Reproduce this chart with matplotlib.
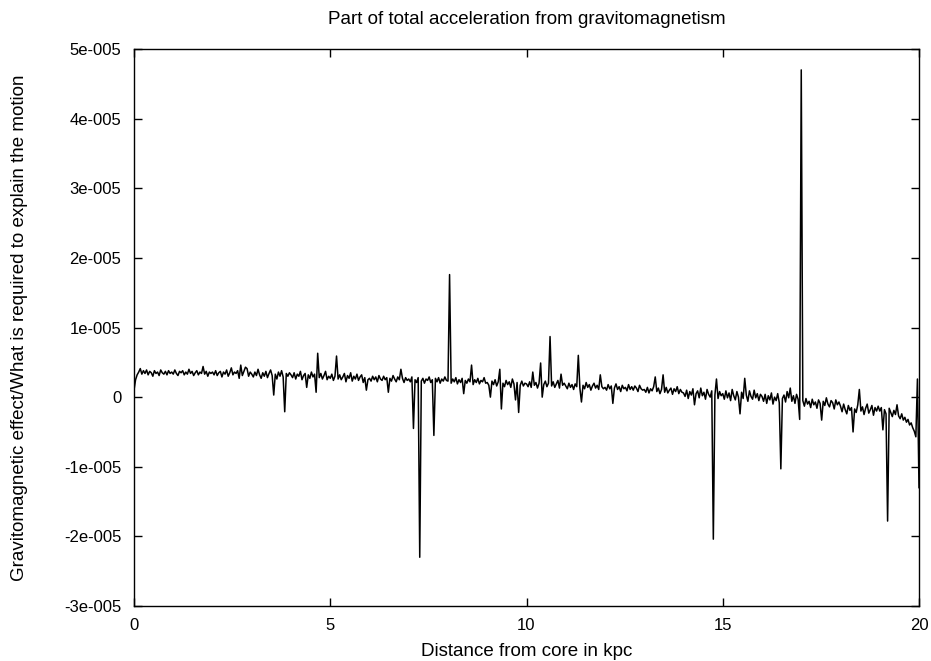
import numpy as np
import matplotlib
matplotlib.use("Agg")
import matplotlib.pyplot as plt

# valores, en unidades de 1e-6, paso de 0.04 kpc
step_kpc = 0.04
rows = [
    [1.0, 2.5, 3.2, 3.6, 4.1, 3.3, 3.8, 3.4, 3.9, 3.2, 3.7, 3.5, 3.0, 3.8, 3.4, 3.6, 3.1, 3.9, 3.5, 3.3, 3.7, 3.2, 3.8, 3.4, 3.6],
    [3.3, 3.9, 3.4, 3.1, 3.7, 3.5, 3.8, 3.2, 3.6, 3.3, 4.0, 3.4, 3.7, 3.1, 3.5, 3.8, 3.2, 3.6, 3.4, 4.4, 3.3, 3.7, 3.0, 3.6, 3.4],
    [3.6, 3.2, 3.8, 3.1, 3.5, 3.7, 2.9, 3.6, 3.3, 3.9, 3.0, 3.5, 4.2, 3.2, 3.6, 3.4, 3.8, 2.7, 4.6, 3.1, 3.7, 4.3, 4.1, 3.0, 3.6],
    [3.3, 2.9, 3.6, 3.1, 4.0, 3.2, 2.7, 3.5, 3.0, 3.7, 2.8, 3.4, 3.9, 3.1, 0.3, 3.3, 2.6, 3.6, 3.0, 3.8, 2.9, -2.1, 3.4, 3.0, 3.5],
    [3.2, 2.8, 3.5, 2.6, 3.3, 3.0, 3.7, 2.5, 3.1, 3.4, 1.4, 3.2, 2.7, 3.6, 2.9, 3.3, 0.7, 6.3, 2.8, 3.4, 2.6, 3.1, 3.7, 2.5, 3.0],
    [2.7, 3.3, 2.4, 3.0, 5.9, 2.6, 3.2, 2.5, 2.9, 3.4, 2.2, 3.1, 2.7, 3.5, 2.3, 3.0, 2.6, 3.3, 2.4, 2.9, 3.2, 2.1, 2.8, 1.0, 2.5],
    [2.7, 2.3, 3.0, 2.5, 2.9, 2.2, 3.1, 2.6, 2.4, 3.0, 2.5, 2.8, 0.7, 2.7, 2.3, 3.1, 2.6, 2.2, 2.9, 2.5, 4.0, 2.7, 2.1, 2.8, 2.4],
    [2.6, 2.2, 2.9, -4.5, 2.5, 2.1, 2.8, -23.0, 2.3, 2.7, 2.0, 2.6, 2.4, 2.9, 2.1, 2.5, -5.5, 2.7, 2.2, 2.8, 2.0, 2.6, 2.3, 2.9, 2.4],
    [2.3, 17.6, 2.0, 2.6, 2.2, 2.8, 1.9, 2.5, 2.1, 2.7, 0.5, 2.4, 2.0, 2.6, 2.2, 4.6, 1.8, 2.5, 2.1, 2.7, 1.9, 2.4, 2.2, 2.8, 2.0],
    [2.1, 1.7, 0.0, 2.3, 1.8, 2.5, 1.6, 2.2, 4.0, -1.7, 2.0, 1.5, 2.4, 1.8, 2.2, 1.4, 2.6, 1.9, -0.4, 2.1, -2.2, 1.7, 2.3, 1.6, 2.0],
    [1.9, 1.5, 2.2, 1.4, 3.6, 1.7, 2.1, 1.3, 2.0, 4.9, 0.0, 1.8, 2.3, 1.5, 2.0, 8.7, 1.6, 2.2, 1.4, 1.9, 2.4, 1.3, 3.3, 1.7, 2.0],
    [1.6, 1.2, 2.0, 1.4, 1.8, 1.1, 1.9, 1.5, 6.0, 1.3, -0.7, 1.7, 1.2, 2.1, 1.4, 1.8, 1.0, 1.6, 2.0, 1.3, 1.7, 1.1, 3.2, 1.5, 1.2],
    [1.4, 1.0, 1.8, 1.2, 1.6, -0.9, 1.3, 1.9, 1.1, 1.5, 0.8, 1.7, 1.2, 1.4, 0.9, 1.8, 1.1, 1.5, 1.0, 1.6, 1.3, 0.8, 1.7, 1.2, 1.0],
    [1.1, 0.7, 1.4, 0.6, 1.2, 0.9, 1.5, 2.9, 0.8, 1.3, 0.5, 1.1, 3.2, 0.7, 1.4, 0.6, 1.0, 1.3, 0.4, 1.2, 0.8, 1.5, 0.5, 1.1, 0.7],
    [0.6, 0.1, 1.0, -0.2, 0.8, 0.3, 1.2, -1.1, 0.5, 0.9, -0.1, 1.3, 0.2, 0.7, -0.3, 1.1, 0.4, 0.0, 0.9, -20.4, 0.3, 2.6, -0.2, 0.8, 0.2],
    [0.5, -0.3, 0.9, -0.1, 0.6, -0.5, 1.1, 0.2, -0.4, 0.8, 0.0, -2.4, 0.7, -0.2, 2.7, 0.3, -0.6, 0.9, 0.1, -0.3, 1.0, -0.1, 0.5, -0.5, 0.4],
    [0.1, -0.6, 0.4, -0.9, 0.2, -0.4, 0.6, -1.0, 0.0, -0.5, 0.5, -0.8, -10.3, -0.2, 0.3, -0.7, 0.8, -0.1, 1.3, -0.6, 0.2, -0.9, 0.4, -0.3, -3.2],
    [47.0, -0.5, -1.3, -0.2, -1.0, -0.6, -1.5, -0.3, -1.1, -0.7, -1.6, -0.4, -0.9, -3.3, -0.6, -1.2, -0.1, -1.0, -1.4, -0.5, -0.8, -1.7, -0.4, -1.1, -0.7],
    [-1.3, -2.1, -1.0, -1.8, -2.4, -1.2, -1.9, -1.5, -5.0, -1.7, -2.2, -1.1, 1.1, -2.0, -1.4, -2.5, -1.6, -1.0, -2.3, -1.8, -1.2, -2.6, -1.5, -2.0, -1.3],
    [-2.0, -1.5, -4.7, -1.8, -2.4, -17.8, -1.6, -2.2, -2.8, -1.9, -2.5, -1.1, -2.7, -3.1, -2.4, -3.3, -2.9, -3.6, -3.2, -4.0, -3.7, -4.4, -4.9, -5.7, 2.6],
]
last_value = -13.0

y_ticks = [5e-5, 4e-5, 3e-5, 2e-5, 1e-5, 0, -1e-5, -2e-5, -3e-5]
y_tick_labels = ["5e-005", "4e-005", "3e-005", "2e-005", "1e-005", "0",
                 "-1e-005", "-2e-005", "-3e-005"]
x_ticks = [0, 5, 10, 15, 20]

# armar la serie completa
values = np.array([v for r in rows for v in r] + [last_value]) * 1e-6
dist = np.arange(len(values)) * step_kpc

plt.rcParams['font.family'] = ['Liberation Sans', 'DejaVu Sans']

W, H = 931, 661
fig = plt.figure(figsize=(W / 100, H / 100), dpi=100)
ax = fig.add_axes([134 / W, 1 - 606 / H, (919 - 134) / W, (606 - 49) / H])

ax.plot(dist, values, color='black', lw=1.1)

ax.set_xlim(0, 20)
ax.set_ylim(-3e-5, 5e-5)
ax.set_xticks(x_ticks)
ax.set_xticklabels([str(t) for t in x_ticks])
ax.set_yticks(y_ticks)
ax.set_yticklabels(y_tick_labels)
ax.tick_params(direction='in', length=6, width=1, top=True, right=True,
               labelsize=12, pad=9, colors='black')
for s in ax.spines.values():
    s.set_linewidth(1.0)

# textos colocados en pixeles como en la referencia
fig.text(526.5 / W, 1 - 20 / H, 'Part of total acceleration from gravitomagnetism',
         fontsize=13.5, ha='center', va='center')
fig.text(526.5 / W, 1 - 651 / H, 'Distance from core in kpc',
         fontsize=13.5, ha='center', va='center')
fig.text(20 / W, 1 - 327.5 / H,
         'Gravitomagnetic effect/What is required to explain the motion',
         fontsize=13.5, ha='center', va='center', rotation=90)

fig.savefig('out.png', dpi=100)
